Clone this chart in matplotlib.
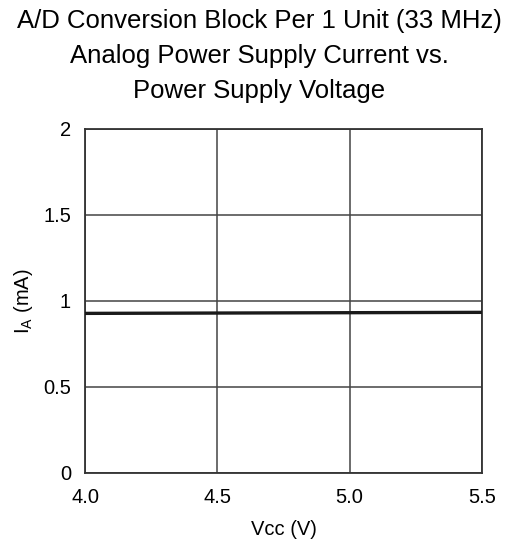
import matplotlib
matplotlib.use("Agg")
import matplotlib.pyplot as plt

plt.rcParams['font.family'] = ['Liberation Sans', 'DejaVu Sans']
plt.rcParams['mathtext.fontset'] = 'custom'
plt.rcParams['mathtext.rm'] = 'Liberation Sans'
plt.rcParams['mathtext.it'] = 'Liberation Sans'

vcc = [4.0, 4.5, 5.0, 5.5]
ia = [0.928, 0.930, 0.932, 0.934]
xticks = [4.0, 4.5, 5.0, 5.5]
xlabels = ["4.0", "4.5", "5.0", "5.5"]
yticks = [0, 0.5, 1, 1.5, 2]
ylabels = ["0", "0.5", "1", "1.5", "2"]

fig = plt.figure(figsize=(5.15, 5.43), dpi=100)
# axes box: x 85..482, y 129..473 px
ax = fig.add_axes([85 / 515, 1 - 473 / 543, 397 / 515, 344 / 543])

ax.plot(vcc, ia, color="#1a1a1a", linewidth=2.4, zorder=3)

ax.set_xlim(4.0, 5.5)
ax.set_ylim(0, 2)
ax.set_xticks(xticks)
ax.set_xticklabels(xlabels)
ax.set_yticks(yticks)
ax.set_yticklabels(ylabels)
ax.tick_params(axis="both", length=0, labelsize=14.5)
ax.tick_params(axis="y", pad=10)
ax.tick_params(axis="x", pad=11)
ax.grid(True, color="#444444", linewidth=1.1)
for s in ax.spines.values():
    s.set_color("#333333")
    s.set_linewidth(1.3)

ax.set_xlabel("Vcc (V)", fontsize=14.5, labelpad=9)
ax.set_ylabel(r"I$_\mathrm{A}$ (mA)", fontsize=14.5, labelpad=6)

fig.text(0.503, 0.983, "A/D Conversion Block Per 1 Unit (33 MHz)\nAnalog Power Supply Current vs.\nPower Supply Voltage",
         ha="center", va="top", fontsize=18.5, linespacing=1.57)

fig.savefig("out.png", dpi=100)
